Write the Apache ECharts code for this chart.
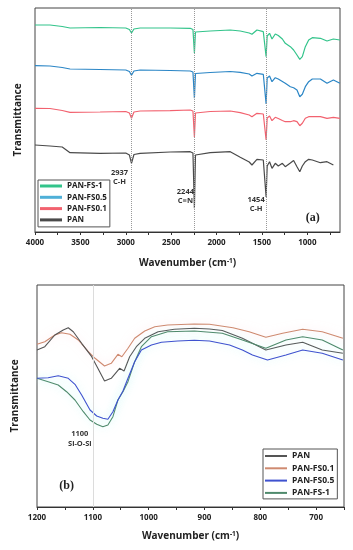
<!DOCTYPE html>
<html><head><meta charset="utf-8">
<script src="https://cdn.jsdelivr.net/npm/echarts@6/dist/echarts.min.js"></script>
<style>html,body{margin:0;padding:0;background:#fff}#c{width:353px;height:550px}</style>
</head><body><div id="c"></div>
<script>
// ---------- Panel (a): full FTIR spectra ----------
const topWn = [4000, 3835, 3700, 3614, 3283, 3000, 2960, 2937, 2910, 2842, 2511, 2290, 2260, 2244, 2232, 2213, 2070, 1849, 1739, 1640, 1610, 1555, 1485, 1465, 1454, 1442, 1416, 1389, 1353, 1320, 1275, 1243, 1187, 1151, 1114, 1083, 1055, 1022, 985, 945, 856, 783, 713, 641];
const topFS1  = [207, 207, 205.5, 204, 204.5, 204, 202.5, 199, 203, 204, 204, 203.7, 202.5, 179, 200, 200, 201, 202, 201, 199, 197.7, 202, 200.3, 199, 175.3, 196, 198.7, 193, 198, 196.5, 193, 188.7, 185.3, 182, 177, 172.7, 175.3, 185.3, 192, 194.3, 193.7, 191, 193, 192];
const topFS05 = [166.3, 166, 164.5, 163, 162.5, 162, 160.5, 156.7, 161, 162, 161.5, 161, 160, 133.7, 158.5, 159, 159.5, 160.5, 159.7, 158, 156, 158.7, 157.7, 157, 128, 154, 156, 150.3, 154.3, 153, 150.5, 148.7, 145.3, 144.3, 142, 135.3, 137.7, 145.3, 150.3, 153, 153, 148.7, 152, 148.7];
const topFS01 = [123.7, 123.5, 121.5, 119.7, 120, 120.5, 119, 113.7, 120, 121, 121.3, 122, 121, 95, 119, 119.5, 120.5, 121, 119.3, 117, 115.3, 118.7, 118, 117, 92, 114, 116, 111.3, 114.7, 113.5, 111.5, 110.3, 110.3, 111.3, 110.3, 106.3, 108.7, 113.7, 115.3, 115.3, 115.3, 113.7, 114.7, 113.7];
const topPAN  = [87, 86, 85, 79.3, 78.7, 79, 77, 68.7, 77.5, 78.7, 80, 80.3, 79, 23.7, 77, 78, 79.3, 80.3, 74.7, 70, 67, 72.7, 72, 70, 35, 66, 70.3, 63.7, 68.7, 66, 68.7, 65.3, 69, 71.5, 65.3, 60.3, 66, 70.3, 72.7, 72, 69.3, 70.3, 67];
const topTickLabels = [4000, 3500, 3000, 2500, 2000, 1500, 1000];
const topTicks = [4000, 3750, 3500, 3250, 3000, 2750, 2500, 2250, 2000, 1750, 1500, 1250, 1000, 750];
const topPeaks = [2937, 2244, 1454];
const topPeakText = ['2937\nC-H', '2244\nC\u2261N', '1454\nC-H'];

// ---------- Panel (b): 1200-650 region ----------
const botWnPAN = [1200, 1186, 1168, 1153, 1144, 1135, 1120, 1102, 1091, 1079, 1067, 1052, 1044, 1034, 1022, 1007, 983, 954, 918, 891, 868, 832, 790, 754, 724, 689, 652];
const botPAN   = [157, 160.3, 172, 177, 179.3, 175.3, 163.7, 150.3, 138.7, 126, 128.7, 138.7, 136, 150.3, 160.3, 168.7, 175.3, 177.7, 178.7, 178, 176.5, 168.7, 157, 162, 164.7, 157, 153.7];
const botWnFS01 = [1200, 1186, 1168, 1156, 1141, 1126, 1108, 1096, 1079, 1067, 1055, 1048, 1037, 1025, 1007, 989, 966, 918, 891, 849, 820, 790, 760, 724, 689, 652];
const botFS01   = [162.7, 165.3, 172, 174.3, 172.7, 167, 155.3, 148.7, 141, 143.7, 152.7, 150.3, 158.7, 168.7, 176, 180.3, 182, 183, 182.7, 179.3, 175.3, 169.7, 173.7, 177.7, 175.3, 168.7];
const botWnFS05 = [1200, 1180, 1162, 1144, 1132, 1120, 1105, 1093, 1082, 1073, 1064, 1055, 1046, 1037, 1025, 1013, 995, 977, 948, 918, 891, 855, 832, 814, 787, 754, 724, 689, 652];
const botFS05   = [128.7, 129.3, 131.3, 128.7, 122.7, 112, 97, 91, 88.7, 87.7, 95.3, 107, 116, 128.7, 145.3, 157, 162, 164.7, 166, 166.7, 166, 162, 157, 152, 147, 152, 157, 153.7, 147];
const botWnFS1 = [1200, 1180, 1162, 1147, 1132, 1117, 1105, 1093, 1082, 1073, 1064, 1055, 1046, 1037, 1025, 1013, 995, 966, 918, 868, 832, 790, 754, 724, 689, 652];
const botFS1   = [128.7, 125.3, 122, 115.3, 107, 95.3, 87, 82.7, 80.3, 82, 90.3, 107, 115.3, 125.3, 145.3, 160.3, 170.3, 175.3, 176, 173.7, 167, 158.7, 167, 170.3, 167, 157];
const botPeak = 1100;
const botPeakText = '1100\nSi-O-Si';

// ---------- helpers / styles ----------
const pairs = (xs, ys) => xs.map((x, i) => [x, ys[i]]);
const FONT = 'Open Sans';
const C = {
  a: { fs1: '#33c48b', fs05: '#2b86c6', fs01: '#f2626f', pan: '#4a4a4a' },
  b: { pan: '#555555', fs01: '#cf8a70', fs05: '#3f52cf', fs1: '#4f8a6c' }
};
const axisName = (gap) => ({
  name: 'Wavenumber (cm{sup|-1})', nameLocation: 'middle', nameGap: gap,
  nameTextStyle: { fontFamily: FONT, fontSize: 10, fontWeight: 'bold', color: '#222',
    rich: { sup: { fontFamily: FONT, fontSize: 6.5, fontWeight: 'bold', color: '#222', verticalAlign: 'top', padding: [0, 0, 4, 0] } } }
});
const yName = (gap) => ({
  type: 'value', name: 'Transmittance', nameLocation: 'middle', nameGap: gap, nameRotate: 90,
  nameTextStyle: { fontFamily: FONT, fontSize: 10, fontWeight: 'bold', color: '#222' },
  axisLine: { show: false }, axisTick: { show: false }, axisLabel: { show: false }, splitLine: { show: false }
});
const lbl = { fontFamily: FONT, fontSize: 8, fontWeight: 'bold', color: '#222' };
const line = (name, data, color, xi, extra) => Object.assign({
  type: 'line', name, data: data, xAxisIndex: xi, yAxisIndex: xi, showSymbol: false, symbol: 'none',
  lineStyle: { color, width: 1.2 }, itemStyle: { color }, animation: false
}, extra || {});

const chart = echarts.init(document.getElementById('c'), null, { renderer: 'canvas' });
const option = {
  animation: false,
  grid: [
    { left: 35, top: 8, width: 305, height: 224, show: true, borderColor: '#444', borderWidth: 1 },
    { left: 37, top: 285, width: 307, height: 222, show: true, borderColor: '#444', borderWidth: 1 }
  ],
  xAxis: [
    Object.assign({
      gridIndex: 0, type: 'value', inverse: true, min: 640, max: 4000,
      axisLine: { show: true, lineStyle: { color: '#333' } },
      axisTick: { show: true, inside: false, length: 3, customValues: topTicks, lineStyle: { color: '#333' } },
      axisLabel: Object.assign({ customValues: topTickLabels, margin: 7, formatter: v => String(v) }, lbl),
      splitLine: { show: false }
    }, axisName(26)),
    Object.assign({
      gridIndex: 1, type: 'value', inverse: true, min: 650, max: 1200, interval: 50,
      axisLine: { show: true, lineStyle: { color: '#333' } },
      axisTick: { show: true, inside: false, length: 3, lineStyle: { color: '#333' } },
      axisLabel: Object.assign({ margin: 7, formatter: v => (v % 100 === 0 ? String(v) : '') }, lbl),
      splitLine: { show: false }
    }, axisName(24))
  ],
  yAxis: [
    Object.assign({ gridIndex: 0, min: 0, max: 224 }, yName(12)),
    Object.assign({ gridIndex: 1, min: 0, max: 222 }, yName(17))
  ],
  legend: [
    {
      orient: 'vertical', left: 38, top: 180, icon: 'rect', itemWidth: 22, itemHeight: 3, itemGap: 1.3,
      padding: [1, 3, 2, 2], borderColor: '#555', borderWidth: 1, selectedMode: false,
      textStyle: { fontFamily: FONT, fontSize: 8, fontWeight: 'bold', color: '#222', lineHeight: 10 },
      data: [
        { name: 'PAN-FS-1', itemStyle: { color: C.a.fs1 } },
        { name: 'PAN-FS0.5', itemStyle: { color: '#4fb0d8' } },
        { name: 'PAN-FS0.1', itemStyle: { color: C.a.fs01 } },
        { name: 'PAN', itemStyle: { color: C.a.pan } }
      ]
    },
    {
      orient: 'vertical', left: 263, top: 449, icon: 'rect', itemWidth: 22, itemHeight: 2, itemGap: 2.3,
      padding: [2, 3, 1, 2], borderColor: '#555', borderWidth: 1, selectedMode: false,
      textStyle: { fontFamily: FONT, fontSize: 8.5, fontWeight: 'bold', color: '#222', lineHeight: 10 },
      data: [
        { name: 'PAN', itemStyle: { color: C.b.pan } },
        { name: 'PAN-FS0.1', itemStyle: { color: C.b.fs01 } },
        { name: 'PAN-FS0.5', itemStyle: { color: C.b.fs05 } },
        { name: 'PAN-FS-1', itemStyle: { color: C.b.fs1 } }
      ]
    }
  ],
  graphic: [
    { type: 'text', x: 312.7, y: 218.3, style: { text: '(a)', align: 'center', verticalAlign: 'middle', textAlign: 'center', textVerticalAlign: 'middle', font: 'bold 12px "Liberation Serif"', fill: '#222' } },
    { type: 'text', x: 66.7, y: 486, style: { text: '(b)', align: 'center', verticalAlign: 'middle', textAlign: 'center', textVerticalAlign: 'middle', font: 'bold 12px "Liberation Serif"', fill: '#222' } }
  ],
  series: [
    line('PAN', pairs(topWn, topPAN), C.a.pan, 0, {
      markLine: {
        silent: true, symbol: ['none', 'none'], label: { show: false },
        lineStyle: { type: 'dotted', color: '#999', width: 1 },
        data: topPeaks.map(p => ({ xAxis: p }))
      },
      markPoint: {
        silent: true, symbol: 'circle', symbolSize: 0,
        label: { show: true, position: 'inside', fontFamily: FONT, fontSize: 7.5, fontWeight: 'bold', color: '#333', lineHeight: 9 },
        data: [
          { coord: [topPeaks[0], 54.5], label: { formatter: topPeakText[0], offset: [-12, 0] } },
          { coord: [topPeaks[1], 35.3], label: { formatter: topPeakText[1], offset: [-9, 0] } },
          { coord: [topPeaks[2], 27.5], label: { formatter: topPeakText[2], offset: [-10, 0] } }
        ]
      }
    }),
    line('PAN-FS0.1', pairs(topWn, topFS01), C.a.fs01, 0),
    line('PAN-FS0.5', pairs(topWn, topFS05), C.a.fs05, 0),
    line('PAN-FS-1', pairs(topWn, topFS1), C.a.fs1, 0),

    line('PAN-FS0.1', pairs(botWnFS01, botFS01), C.b.fs01, 1, {
      lineStyle: { color: C.b.fs01, width: 1.1, shadowColor: 'rgba(255,190,200,0.55)', shadowBlur: 8 },
      markLine: {
        silent: true, symbol: ['none', 'none'], label: { show: false },
        lineStyle: { type: 'solid', color: '#dcdcdc', width: 1 },
        data: [{ xAxis: botPeak }]
      }
    }),
    line('PAN', pairs(botWnPAN, botPAN), C.b.pan, 1, { lineStyle: { color: C.b.pan, width: 1.1 } }),
    line('PAN-FS-1', pairs(botWnFS1, botFS1), C.b.fs1, 1, {
      lineStyle: { color: C.b.fs1, width: 1.1, shadowColor: 'rgba(150,240,235,0.6)', shadowBlur: 8 }
    }),
    line('PAN-FS0.5', pairs(botWnFS05, botFS05), C.b.fs05, 1, {
      lineStyle: { color: C.b.fs05, width: 1.1, shadowColor: 'rgba(150,240,235,0.6)', shadowBlur: 8 },
      markPoint: {
        silent: true, symbol: 'circle', symbolSize: 0,
        label: { show: true, position: 'inside', fontFamily: FONT, fontSize: 7.5, fontWeight: 'bold', color: '#333', lineHeight: 9.5 },
        data: [{ coord: [botPeak, 68.3], label: { formatter: botPeakText, offset: [-13, 0] } }]
      }
    })
  ]
};
chart.setOption(option);
</script>
</body></html>
